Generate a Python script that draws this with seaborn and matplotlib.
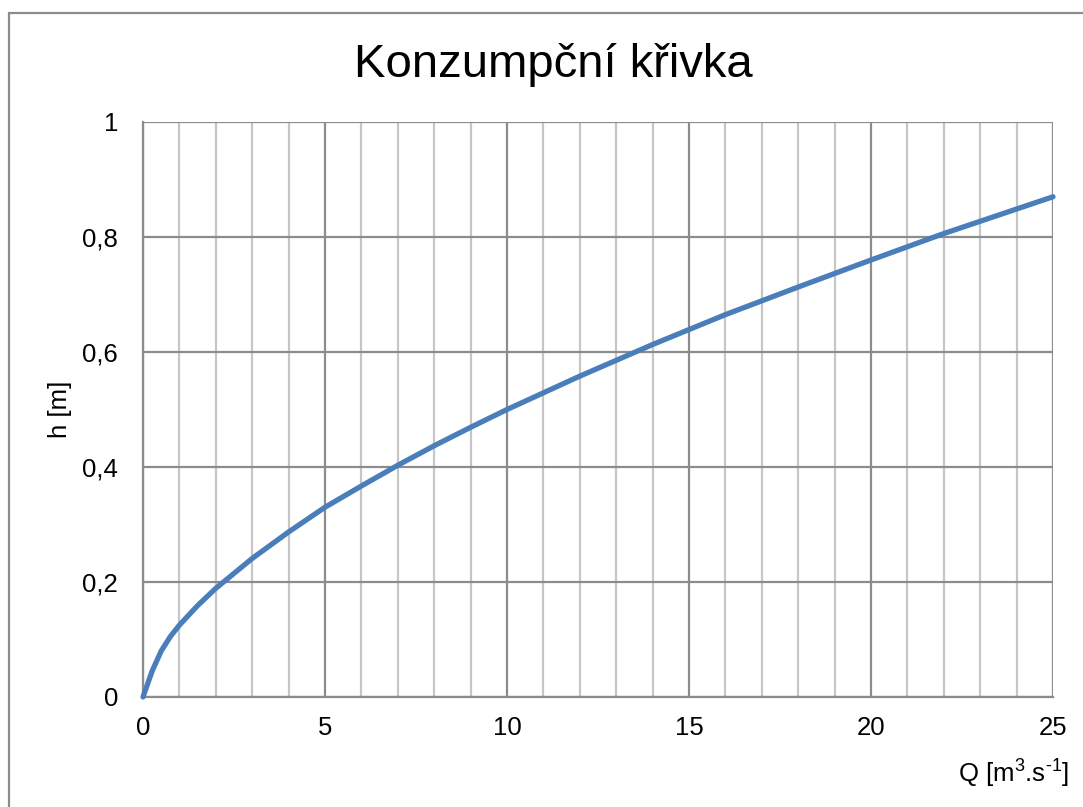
import numpy as np
import pandas as pd
import matplotlib
matplotlib.use("Agg")
import matplotlib.pyplot as plt
import seaborn as sns
from matplotlib.ticker import MultipleLocator, FuncFormatter

# Data
Q = [0, 0.25, 0.5, 0.75, 1, 1.5, 2, 3, 4, 5, 6, 7, 8, 9, 10,
     12, 14, 16, 18, 20, 22, 25]
h = [0, 0.045, 0.08, 0.105, 0.125, 0.159, 0.189, 0.241, 0.287, 0.33, 0.367,
     0.403, 0.437, 0.469, 0.50, 0.558, 0.613, 0.665, 0.713, 0.76, 0.806, 0.87]

df = pd.DataFrame({"Q": Q, "h": h})

sns.set_theme(style="white")
plt.rcParams['font.family'] = ['Liberation Sans', 'DejaVu Sans']
plt.rcParams['mathtext.fontset'] = 'custom'
plt.rcParams['mathtext.rm'] = 'Liberation Sans'
plt.rcParams['text.color'] = 'black'
plt.rcParams['axes.labelcolor'] = 'black'

fig = plt.figure(figsize=(10.83, 8.07), dpi=100)
ax = fig.add_axes([143/1083, 1-697/807, (1053-143)/1083, (697-122)/807])

# Excel-style gridlines
ax.set_xlim(0, 25)
ax.set_ylim(0, 1)
ax.xaxis.set_major_locator(MultipleLocator(5))
ax.xaxis.set_minor_locator(MultipleLocator(1))
ax.yaxis.set_major_locator(MultipleLocator(0.2))
ax.grid(which="minor", axis="x", color="#c6c6c6", linewidth=1.6)
ax.grid(which="major", axis="both", color="#8c8c8c", linewidth=1.6)
ax.set_axisbelow(True)

sns.lineplot(data=df, x="Q", y="h", ax=ax, color="#4a7ebb", linewidth=3.8,
             clip_on=False, zorder=5)

for s in ["top", "right"]:
    ax.spines[s].set_visible(False)
for s in ["left", "bottom"]:
    ax.spines[s].set_color("#8c8c8c")
    ax.spines[s].set_linewidth(1.6)

ax.yaxis.set_major_formatter(FuncFormatter(lambda v, p: f"{v:g}".replace(".", ",")))
ax.tick_params(axis="both", which="both", length=0, labelsize=18.5, colors="black")
ax.tick_params(axis="x", pad=14)
ax.tick_params(axis="y", pad=18)

ax.set_xlabel("")
ax.set_ylabel("")
fig.text(60/1083, 1-409/807, "h [m]", fontsize=18.5, rotation=90,
         ha="center", va="center")
fig.text(1014/1083, 1-773/807, r"Q [m$^{3}$.s$^{\text{-1}}$]", fontsize=18.5,
         ha="center", va="center")
fig.text(553/1083, 1-65/807, "Konzumpční křivka", fontsize=34,
         ha="center", va="center")

# chart frame
fig.add_artist(plt.Rectangle((9/1083, -0.1), 1.2, 1 - 13/807 + 0.1,
                             transform=fig.transFigure, fill=False,
                             edgecolor="#8c8c8c", linewidth=1.6))

fig.savefig("out.png", dpi=100)
